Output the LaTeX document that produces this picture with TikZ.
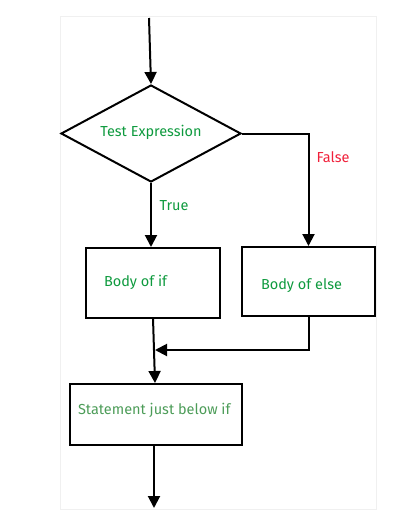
\documentclass[tikz,border=0pt]{standalone}
\usepackage{fontspec}
\setmainfont{Fira Sans}
\usetikzlibrary{arrows.meta,shapes.geometric}
\definecolor{tgreen}{HTML}{0E9A3E}
\definecolor{sgreen}{HTML}{4C9C58}
\definecolor{fred}{HTML}{F0203A}
\definecolor{panel}{HTML}{F0F0F0}
\begin{document}
\begin{tikzpicture}[x=1pt,y=-1pt,
  line width=2pt,
  arr/.style={-{Triangle[length=12pt,width=12pt]}},
  box/.style={draw,rectangle,inner sep=0pt},
  lbl/.style={font=\fontsize{14.5}{16}\selectfont,inner sep=0pt}]
\useasboundingbox (0,0) rectangle (405,522);
\draw[panel,line width=1pt] (60,16) rectangle (376,509);
% diamond
\node[draw,diamond,aspect=1.84,minimum width=180pt,minimum height=97pt,inner sep=0pt] (d) at (151,133.5) {};
\node[lbl,text=tgreen] (dt) at (151,132) {Test Expression};
\coordinate (top) at (149,18);
\draw[arr] (top) -- (d.north);
% boxes
\node[box,minimum width=134pt,minimum height=70pt] (bif) at (153,283) {};
\node[lbl,text=tgreen,anchor=west] (bift) at (103,282) {Body of if};
\node[box,minimum width=133pt,minimum height=69pt] (belse) at (308.5,281.5) {};
\node[lbl,text=tgreen,anchor=west] (belset) at (260,286) {Body of else};
\node[box,minimum width=172pt,minimum height=61pt] (st) at (156,414.5) {};
\node[lbl,text=sgreen,anchor=west] (stt) at (77,410) {Statement just below if};
% connectors
\draw[arr] (d.south) -- (bif.north -| d.south);
\node[lbl,text=tgreen] (tl) at (174,206) {True};
\coordinate (fc) at (308.5,133.5);
\draw[arr] (d.east) -- (fc) -- (belse.north);
\node[lbl,text=fred] (fl) at (333,157) {False};
\coordinate (mj) at (155,350);
\coordinate (ms) at (153,318);
\draw[arr] (ms) -- (st.north -| mj);
\draw[arr] (belse.south) |- (mj);
\coordinate (bot) at (154,508);
\draw[arr] (st.south -| bot) -- (bot);
\end{tikzpicture}
\end{document}
